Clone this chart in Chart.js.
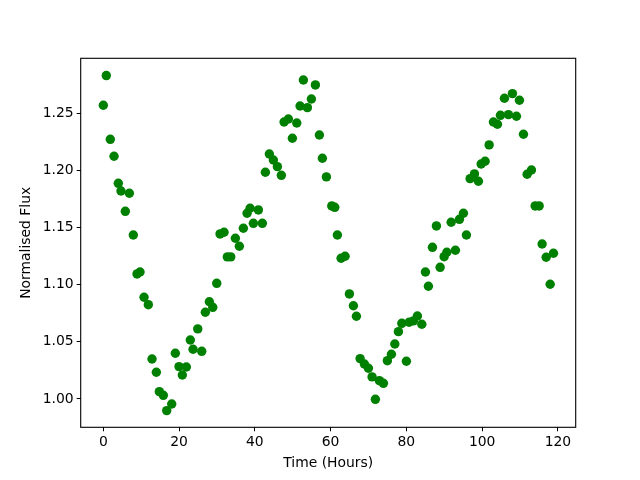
<!DOCTYPE html>
<html>
<head>
<meta charset="utf-8">
<title>Normalised Flux</title>
<script src="https://cdn.jsdelivr.net/npm/chart.js@4/dist/chart.umd.min.js"></script>
<style>
    html, body { margin: 0; padding: 0; background: #fff; }
    canvas { display: block; }
</style>
</head>
<body>
<canvas id="flux-chart" width="640" height="480"></canvas>
<script>
// values
const timeHours = [
    0.0, 0.79, 1.85, 2.83, 3.96, 4.67, 5.81, 6.87, 7.92, 8.90,
    9.69, 10.75, 11.88, 12.86, 14.0, 14.79, 15.84, 16.74, 18.06, 19.01,
    19.99, 20.86, 21.92, 22.97, 23.69, 24.93, 25.98, 26.93, 27.99, 28.89,
    29.94, 30.82, 31.87, 32.74, 33.64, 34.86, 35.91, 36.97, 37.95, 38.74,
    39.61, 40.93, 41.98, 42.78, 43.83, 44.89, 45.95, 47.0, 47.72, 48.85,
    49.91, 51.07, 51.94, 52.81, 53.87, 54.93, 55.98, 57.04, 57.83, 58.89,
    60.31, 61.10, 61.79, 62.77, 63.82, 64.96, 66.02, 66.81, 67.79, 68.92,
    69.98, 70.95, 71.82, 72.88, 73.94, 74.99, 76.05, 76.95, 77.90, 78.80,
    80.01, 80.72, 81.86, 82.91, 84.08, 85.03, 85.82, 86.88, 87.93, 88.91,
    89.97, 90.68, 91.82, 92.95, 94.01, 95.06, 95.85, 96.83, 97.97, 99.02,
    99.74, 100.79, 101.85, 102.98, 104.04, 104.83, 105.89, 106.94, 108.0, 109.06,
    109.85, 110.91, 111.88, 113.02, 114.0, 115.05, 115.84, 116.9, 117.96, 118.83
];

const flux = [
    1.257, 1.283, 1.2272, 1.2124, 1.1887, 1.1820, 1.1642, 1.1800, 1.1435, 1.1094,
    1.1111, 1.0890, 1.0825, 1.0350, 1.0234, 1.0064, 1.0032, 0.9898, 0.9956, 1.0400,
    1.0283, 1.0210, 1.0280, 1.0516, 1.0435, 1.0613, 1.0417, 1.0759, 1.0851, 1.0802,
    1.1012, 1.1444, 1.1459, 1.1243, 1.1243, 1.1406, 1.1336, 1.1494, 1.1625, 1.1669,
    1.1537, 1.1654, 1.1537, 1.1984, 1.2144, 1.2091, 1.2033, 1.1957, 1.2424, 1.2450,
    1.2281, 1.2415, 1.2564, 1.2791, 1.2549, 1.2625, 1.2748, 1.2310, 1.2106, 1.1943,
    1.1689, 1.1677, 1.1435, 1.1231, 1.1249, 1.0919, 1.0816, 1.0724, 1.0353, 1.0306,
    1.0269, 1.0193, 0.9997, 1.0160, 1.0137, 1.0335, 1.0391, 1.0481, 1.0589, 1.0662,
    1.0330, 1.0671, 1.0683, 1.0726, 1.0654, 1.1111, 1.0986, 1.1327, 1.1514, 1.1152,
    1.1245, 1.1284, 1.1546, 1.1301, 1.1572, 1.1625, 1.1435, 1.1928, 1.1969, 1.1905,
    1.2056, 1.2080, 1.2223, 1.2424, 1.2404, 1.2482, 1.2631, 1.2488, 1.2672, 1.2474,
    1.2614, 1.2316, 1.1966, 1.2004, 1.1689, 1.1689, 1.1356, 1.1240, 1.1004, 1.1275
];

const xTicks = [0, 20, 40, 60, 80, 100, 120];
const xTickLabels = ['0', '20', '40', '60', '80', '100', '120'];
const yTicks = [1.00, 1.05, 1.10, 1.15, 1.20, 1.25];
const yTickLabels = ['1.00', '1.05', '1.10', '1.15', '1.20', '1.25'];

const FONT = { family: "'DejaVu Sans', sans-serif", size: 13.9 };

// matplotlib-style box around the axes
const frame = {
    id: 'frame',
    afterDatasetsDraw(chart) {
        const { ctx, chartArea: a } = chart;
        ctx.save();
        ctx.strokeStyle = '#000';
        ctx.lineWidth = 1.1;
        ctx.strokeRect(a.left, a.top, a.right - a.left, a.bottom - a.top);
        ctx.restore();
    }
};

const points = timeHours.map((t, i) => ({ x: t, y: flux[i] }));

new Chart(document.getElementById('flux-chart').getContext('2d'), {
    type: 'scatter',
    data: {
        datasets: [{
            data: points,
            backgroundColor: '#008000',
            borderColor: '#008000',
            borderWidth: 0,
            pointRadius: 4.7,
            pointHoverRadius: 4.7
        }]
    },
    options: {
        responsive: false,
        animation: false,
        devicePixelRatio: 1,
        layout: { padding: { top: 58.3, right: 64.3, bottom: 0, left: 0 } },
        plugins: {
            legend: { display: false },
            tooltip: { enabled: false }
        },
        scales: {
            x: {
                type: 'linear',
                min: -5.97,
                max: 124.7,
                afterBuildTicks: (scale) => { scale.ticks = xTicks.map(v => ({ value: v })); },
                afterFit: (scale) => { scale.height = 52.7; },
                ticks: {
                    color: '#000',
                    font: FONT,
                    padding: 3,
                    maxRotation: 0,
                    callback: (v, i) => xTickLabels[i]
                },
                grid: {
                    display: true,
                    drawOnChartArea: false,
                    drawTicks: true,
                    tickLength: 4,
                    tickColor: '#000',
                    tickWidth: 1
                },
                border: { display: false },
                title: {
                    display: true,
                    text: 'Time (Hours)',
                    color: '#000',
                    font: FONT,
                    padding: { top: 0, bottom: 8.5 }
                }
            },
            y: {
                type: 'linear',
                min: 0.9752,
                max: 1.2981,
                afterBuildTicks: (scale) => { scale.ticks = yTicks.map(v => ({ value: v })); },
                afterFit: (scale) => { scale.width = 80.7; },
                ticks: {
                    color: '#000',
                    font: FONT,
                    padding: 3,
                    callback: (v, i) => yTickLabels[i]
                },
                grid: {
                    display: true,
                    drawOnChartArea: false,
                    drawTicks: true,
                    tickLength: 4,
                    tickColor: '#000',
                    tickWidth: 1
                },
                border: { display: false },
                title: {
                    display: true,
                    text: 'Normalised Flux',
                    color: '#000',
                    font: FONT,
                    padding: { top: 18.5, bottom: 0 }
                }
            }
        }
    },
    plugins: [frame]
});
</script>
</body>
</html>
